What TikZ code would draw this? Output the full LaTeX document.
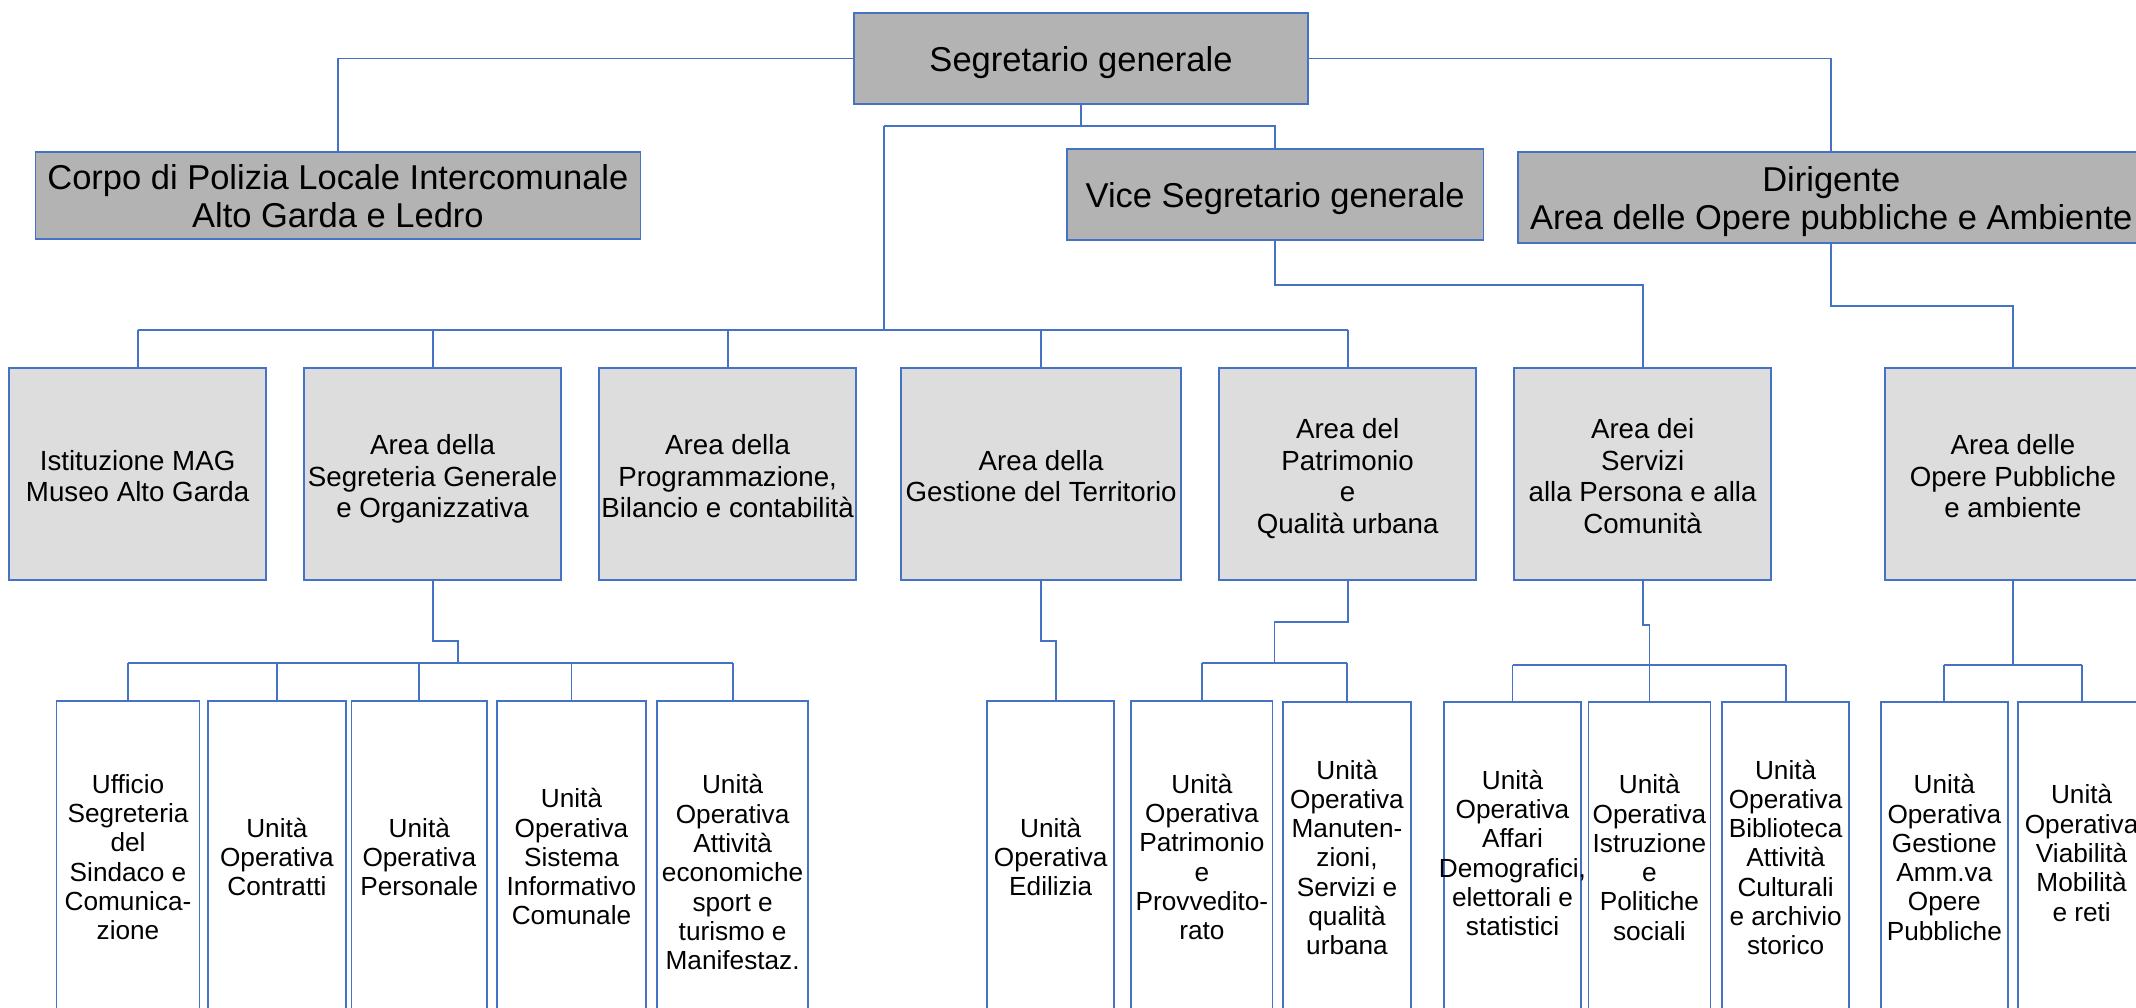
\documentclass[tikz,border=0pt]{standalone}
\usepackage{fontspec}
\setmainfont{Liberation Sans}
\definecolor{lineblue}{HTML}{4472C4}
\definecolor{topgray}{HTML}{B3B3B3}
\definecolor{areagray}{HTML}{DDDDDD}
\newcommand\mylines[2][4.5pt]{\makebox[0pt]{\raisebox{-#1}[\height][\depth]{\begin{tabular}{@{}c@{}}#2\end{tabular}}}}
\tikzset{
  wh/.style 2 args={minimum width=#1pt, minimum height=#2pt},
  basebox/.style={draw=lineblue, line width=1.8pt, inner sep=0pt, rectangle},
  topbox/.style={basebox, fill=topgray, font=\fontsize{34.5}{38}\selectfont},
  areabox/.style={basebox, fill=areagray, font=\fontsize{27.7}{31.8}\selectfont},
  unitbox/.style={basebox, fill=white, font=\fontsize{26.2}{29.3}\selectfont},
  unittext/.style={inner sep=0pt, font=\fontsize{26.2}{29.3}\selectfont},
  conn/.style={draw=lineblue, line width=1.8pt}
}
\begin{document}
\begin{tikzpicture}[x=1pt,y=-1pt]
\useasboundingbox (0,0) rectangle (2136,1008);
\begin{scope}
\clip (0,0) rectangle (2136,1008);
% top level
\node[topbox, wh={454}{91}] (seg) at (1081,58.6) {\mylines[5.5pt]{Segretario generale}};
\node[topbox, wh={605}{87}] (corpo) at (337.9,195.8) {\mylines[5.5pt]{Corpo di Polizia Locale Intercomunale\\Alto Garda e Ledro}};
\node[topbox, wh={416.5}{90.7}] (vice) at (1275.2,194.4) {\mylines[5.5pt]{Vice Segretario generale}};
\node[topbox, wh={627.4}{91}] (dir) at (1831.3,197.2) {\mylines[5.5pt]{Dirigente\\Area delle Opere pubbliche e Ambiente}};
% areas
\node[areabox, wh={257.4}{211.7}] (a1) at (137.6,474.2) {\mylines[5.5pt]{Istituzione MAG\\Museo Alto Garda}};
\node[areabox, wh={257.5}{211.7}] (a2) at (432.6,474.2) {\mylines[5.5pt]{Area della\\Segreteria Generale\\e Organizzativa}};
\node[areabox, wh={257.5}{211.7}] (a3) at (727.6,474.2) {\mylines[5.5pt]{Area della\\Programmazione,\\Bilancio e contabilità}};
\node[areabox, wh={279.8}{211.7}] (a4) at (1041.1,474.2) {\mylines[5.5pt]{Area della\\Gestione del Territorio}};
\node[areabox, wh={256.8}{211.7}] (a5) at (1347.6,474.2) {\mylines[5.5pt]{Area del\\Patrimonio\\e\\Qualità urbana}};
\node[areabox, wh={256.8}{211.7}] (a6) at (1642.6,474.2) {\mylines[5.5pt]{Area dei\\Servizi\\alla Persona e alla\\Comunità}};
\node[areabox, wh={256.2}{211.7}] (a7) at (2012.9,474.2) {\mylines[5.5pt]{Area delle\\Opere Pubbliche\\e ambiente}};
% units
\node[unitbox, wh={143}{310}] (u1) at (128,856) {\mylines{Ufficio\\Segreteria\\del\\Sindaco e\\Comunica-\\zione}};
\node[unitbox, wh={138.2}{310}] (u2) at (276.9,856) {\mylines{Unità\\Operativa\\Contratti}};
\node[unitbox, wh={135.5}{310}] (u3) at (419.3,856) {\mylines{Unità\\Operativa\\Personale}};
\node[unitbox, wh={148.5}{310}] (u4) at (571.5,856) {\mylines{Unità\\Operativa\\Sistema\\Informativo\\Comunale}};
\node[unitbox, wh={150.5}{310}] (u5) at (732.6,856) {};
\node[unittext] (u5t) at (732.6,876) {\mylines[0pt]{Unità\\Operativa\\Attività\\economiche\\sport e\\turismo e\\Manifestaz.}};
\node[unitbox, wh={127.3}{310}] (u6) at (1050.7,856) {\mylines{Unità\\Operativa\\Edilizia}};
\node[unitbox, wh={141.1}{310}] (u7) at (1201.9,856) {\mylines{Unità\\Operativa\\Patrimonio\\e\\Provvedito-\\rato}};
\node[unitbox, wh={127.3}{308.7}] (u8) at (1347,856.6) {\mylines{Unità\\Operativa\\Manuten-\\zioni,\\Servizi e\\qualità\\urbana}};
\node[unitbox, wh={137}{308.7}] (u9) at (1512.5,856.6) {\mylines[0pt]{Unità\\Operativa\\Affari\\Demografici,\\elettorali e\\statistici}};
\node[unitbox, wh={122}{308.7}] (u10) at (1649.4,856.6) {\mylines{Unità\\Operativa\\Istruzione\\e\\Politiche\\sociali}};
\node[unitbox, wh={127.4}{308.7}] (u11) at (1785.6,856.6) {\mylines{Unità\\Operativa\\Biblioteca\\Attività\\Culturali\\e archivio\\storico}};
\node[unitbox, wh={127.3}{308.7}] (u12) at (1944.3,856.6) {\mylines{Unità\\Operativa\\Gestione\\Amm.va\\Opere\\Pubbliche}};
\node[unitbox, wh={128}{308.7}] (u13) at (2081.6,856.6) {\mylines[0pt]{Unità\\Operativa\\Viabilità\\Mobilità\\e reti}};
% connectors: top level
\draw[conn] (seg.west) -| (corpo.north);
\draw[conn] (seg.east) -| (dir.north);
\coordinate (hA) at (884,126);
\coordinate (hB) at (884,330);
\draw[conn] (seg.south) -- (seg.south |- hA);
\draw[conn] (hA) -| (vice.north);
\draw[conn] (hA) -- (hB);
% area bus
\draw[conn] (a1.north |- hB) -- (a5.north |- hB);
\foreach \a in {a1,a2,a3,a4,a5} { \draw[conn] (\a.north |- hB) -- (\a.north); }
\coordinate (hC) at (1275.2,285);
\draw[conn] (vice.south) -- (hC) -| (a6.north);
\coordinate (hD) at (1831.3,306);
\draw[conn] (dir.south) -- (hD) -| (a7.north);
% a2 -> units
\coordinate (j2) at (457.8,640.7);
\coordinate (b2) at (457.8,663.3);
\draw[conn] (a2.south) |- (j2) -- (b2);
\draw[conn] (u1.north |- b2) -- (u5.north |- b2);
\foreach \u in {u1,u2,u3,u4,u5} { \draw[conn] (\u.north |- b2) -- (\u.north); }
% a4 -> u6
\coordinate (j4) at (1055.9,640.7);
\draw[conn] (a4.south) |- (j4) -- (j4 |- u6.north);
% a5 -> u7,u8
\coordinate (j5) at (1274.4,621.7);
\coordinate (b5) at (1274.4,663.3);
\draw[conn] (a5.south) |- (j5) -- (b5);
\draw[conn] (u7.north |- b5) -- (u8.north |- b5);
\foreach \u in {u7,u8} { \draw[conn] (\u.north |- b5) -- (\u.north); }
% a6 -> u9,u10,u11
\coordinate (j6) at (1649.4,625);
\coordinate (b6) at (1649.4,664.7);
\draw[conn] (a6.south) |- (j6) -- (u10.north);
\draw[conn] (u9.north |- b6) -- (u11.north |- b6);
\foreach \u in {u9,u11} { \draw[conn] (\u.north |- b6) -- (\u.north); }
% a7 -> u12,u13
\coordinate (b7) at (2012.9,664.7);
\draw[conn] (a7.south) -- (b7);
\draw[conn] (u12.north |- b7) -- (u13.north |- b7);
\foreach \u in {u12,u13} { \draw[conn] (\u.north |- b7) -- (\u.north); }
\end{scope}
\end{tikzpicture}
\end{document}
